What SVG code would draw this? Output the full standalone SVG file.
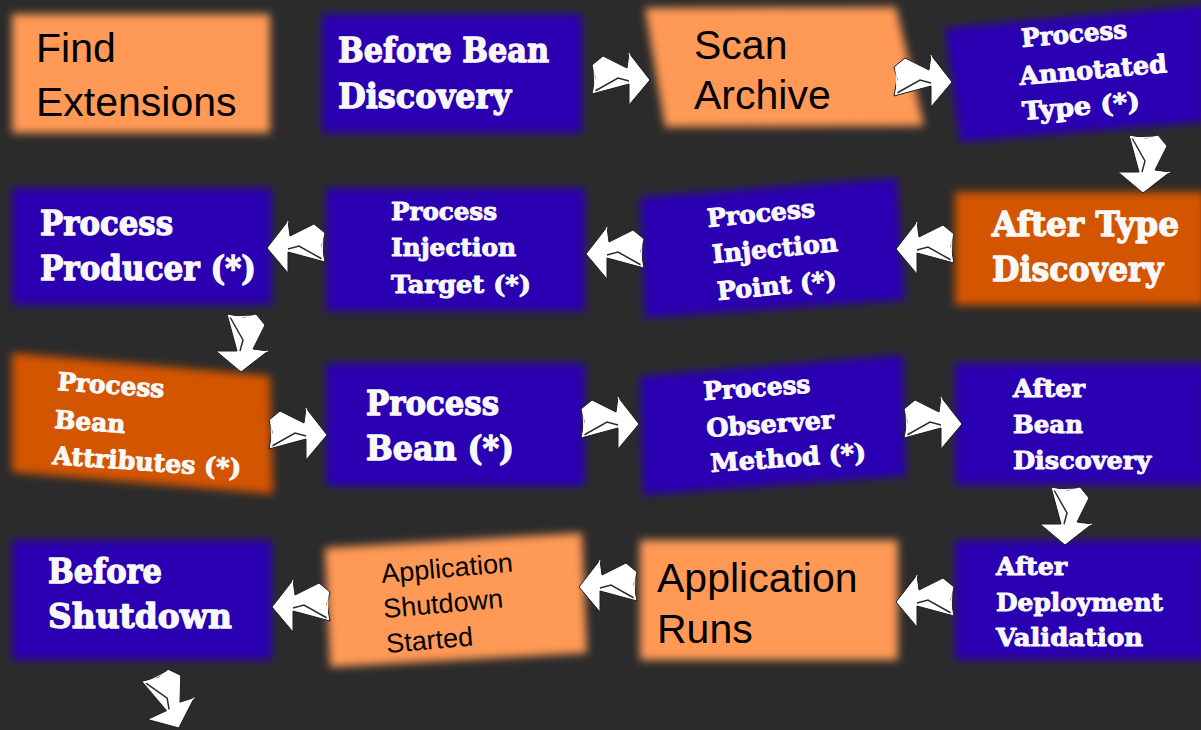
<svg xmlns="http://www.w3.org/2000/svg" xmlns:xlink="http://www.w3.org/1999/xlink" width="1201" height="730" viewBox="0 0 1201 730">
<defs>
<filter id="soft" x="-10%" y="-15%" width="120%" height="130%"><feGaussianBlur stdDeviation="4"/></filter>
<g id="arrowR">
<polygon points="-28,-13 -17,-22 7,-10 9,-25 30,2 9,27 9,6 -28,16 -25,-1" fill="#ffffff" stroke="#1e1e1e" stroke-width="1"/>
<polyline points="-25,13 -2,0 9,3" fill="none" stroke="#2b2b2b" stroke-width="1.5"/>
<line x1="-26" y1="-12" x2="-25" y2="14" stroke="#ffffff" stroke-width="1"/>
<line x1="9" y1="-25" x2="14" y2="-8" stroke="#ffffff" stroke-width="1"/>
</g>
</defs>
<style>
.blue{fill:#2a00b2}
.dark{fill:#d45500}
.light{fill:#ff9955}
.slab{font-family:"DejaVu Serif","Liberation Serif",serif;font-weight:bold;fill:#f8f8f8;stroke:#f8f8f8;stroke-linejoin:round}
.big{font-size:33px;stroke-width:1.3px}
.small{font-size:25px;stroke-width:1px}
.sans{font-family:"Liberation Sans",Arial,sans-serif;fill:#000000}
.sansbig{font-size:41px}
.sanssmall{font-size:27px}
</style>
<rect x="0" y="0" width="1201" height="730" fill="#2b2b2b"/>

<g id="find-extensions">
<rect class="light" x="12" y="14" width="258" height="119" filter="url(#soft)"/>
<text class="sans sansbig" x="36" y="62">Find</text>
<text class="sans sansbig" x="36" y="116">Extensions</text>
</g>

<g id="before-bean-discovery">
<rect class="blue" x="322" y="14" width="260" height="119" filter="url(#soft)"/>
<text class="slab big" x="338" y="62" textLength="211" lengthAdjust="spacingAndGlyphs">Before Bean</text>
<text class="slab big" x="338" y="108" textLength="173" lengthAdjust="spacingAndGlyphs">Discovery</text>
</g>

<g id="scan-archive">
<polygon class="light" points="645,8 896,7 924,126 665,127" filter="url(#soft)"/>
<text class="sans sansbig" x="694" y="59">Scan</text>
<text class="sans sansbig" x="694" y="109">Archive</text>
</g>

<g id="process-annotated-type">
<polygon class="blue" points="945,28 1205,5 1205,122 960,142" filter="url(#soft)"/>
<text class="slab small" x="1022" y="47" transform="rotate(-5 1022 47)" textLength="106" lengthAdjust="spacingAndGlyphs">Process</text>
<text class="slab small" x="1020" y="85" transform="rotate(-5 1020 85)" textLength="148" lengthAdjust="spacingAndGlyphs">Annotated</text>
<text class="slab small" x="1023" y="120" transform="rotate(-5 1023 120)" textLength="118" lengthAdjust="spacingAndGlyphs">Type (*)</text>
</g>

<g id="process-producer">
<rect class="blue" x="12" y="188" width="260" height="117" filter="url(#soft)"/>
<text class="slab big" x="40" y="235" textLength="133" lengthAdjust="spacingAndGlyphs">Process</text>
<text class="slab big" x="40" y="280" textLength="216" lengthAdjust="spacingAndGlyphs">Producer (*)</text>
</g>

<g id="process-injection-target">
<rect class="blue" x="326" y="188" width="259" height="123" filter="url(#soft)"/>
<text class="slab small" x="391" y="220" textLength="106" lengthAdjust="spacingAndGlyphs">Process</text>
<text class="slab small" x="391" y="256" textLength="125" lengthAdjust="spacingAndGlyphs">Injection</text>
<text class="slab small" x="391" y="293" textLength="140" lengthAdjust="spacingAndGlyphs">Target (*)</text>
</g>

<g id="process-injection-point">
<polygon class="blue" points="640,197 897,178 905,300 645,318" filter="url(#soft)"/>
<text class="slab small" x="708" y="227" transform="rotate(-5.5 708 227)" textLength="108" lengthAdjust="spacingAndGlyphs">Process</text>
<text class="slab small" x="713" y="263" transform="rotate(-5.5 713 263)" textLength="126" lengthAdjust="spacingAndGlyphs">Injection</text>
<text class="slab small" x="718" y="300" transform="rotate(-5.5 718 300)" textLength="120" lengthAdjust="spacingAndGlyphs">Point (*)</text>
</g>

<g id="after-type-discovery">
<rect class="dark" x="955" y="192" width="250" height="113" filter="url(#soft)"/>
<text class="slab big" x="992" y="236" textLength="187" lengthAdjust="spacingAndGlyphs">After Type</text>
<text class="slab big" x="992" y="281" textLength="171" lengthAdjust="spacingAndGlyphs">Discovery</text>
</g>

<g id="process-bean-attributes">
<polygon class="dark" points="12,353 270,376 273,494 12,472" filter="url(#soft)"/>
<text class="slab small" x="57" y="390" transform="rotate(4 57 390)" textLength="107" lengthAdjust="spacingAndGlyphs">Process</text>
<text class="slab small" x="54" y="428" transform="rotate(4 54 428)" textLength="71" lengthAdjust="spacingAndGlyphs">Bean</text>
<text class="slab small" x="52" y="464" transform="rotate(4 52 464)" textLength="189" lengthAdjust="spacingAndGlyphs">Attributes (*)</text>
</g>

<g id="process-bean">
<rect class="blue" x="326" y="363" width="259" height="123" filter="url(#soft)"/>
<text class="slab big" x="366" y="415" textLength="133" lengthAdjust="spacingAndGlyphs">Process</text>
<text class="slab big" x="366" y="460" textLength="148" lengthAdjust="spacingAndGlyphs">Bean (*)</text>
</g>

<g id="process-observer-method">
<polygon class="blue" points="640,376 903,355 906,476 643,495" filter="url(#soft)"/>
<text class="slab small" x="704" y="400" transform="rotate(-4 704 400)" textLength="107" lengthAdjust="spacingAndGlyphs">Process</text>
<text class="slab small" x="707" y="437" transform="rotate(-4 707 437)" textLength="128" lengthAdjust="spacingAndGlyphs">Observer</text>
<text class="slab small" x="711" y="472" transform="rotate(-4 711 472)" textLength="156" lengthAdjust="spacingAndGlyphs">Method (*)</text>
</g>

<g id="after-bean-discovery">
<rect class="blue" x="955" y="363" width="250" height="122" filter="url(#soft)"/>
<text class="slab small" x="1013" y="397" textLength="72" lengthAdjust="spacingAndGlyphs">After</text>
<text class="slab small" x="1013" y="433" textLength="70" lengthAdjust="spacingAndGlyphs">Bean</text>
<text class="slab small" x="1013" y="469" textLength="138" lengthAdjust="spacingAndGlyphs">Discovery</text>
</g>

<g id="before-shutdown">
<rect class="blue" x="12" y="540" width="260" height="120" filter="url(#soft)"/>
<text class="slab big" x="48" y="583" textLength="114" lengthAdjust="spacingAndGlyphs">Before</text>
<text class="slab big" x="48" y="628" textLength="184" lengthAdjust="spacingAndGlyphs">Shutdown</text>
</g>

<g id="application-shutdown-started">
<polygon class="light" points="325,548 582,533 587,653 330,667" filter="url(#soft)"/>
<text class="sans sanssmall" x="382" y="583" transform="rotate(-5 382 583)">Application</text>
<text class="sans sanssmall" x="384" y="618" transform="rotate(-5 384 618)">Shutdown</text>
<text class="sans sanssmall" x="387" y="653" transform="rotate(-5 387 653)">Started</text>
</g>

<g id="application-runs">
<rect class="light" x="640" y="540" width="258" height="120" filter="url(#soft)"/>
<text class="sans sansbig" x="657" y="592">Application</text>
<text class="sans sansbig" x="657" y="643">Runs</text>
</g>

<g id="after-deployment-validation">
<rect class="blue" x="955" y="540" width="250" height="120" filter="url(#soft)"/>
<text class="slab small" x="996" y="575" textLength="71" lengthAdjust="spacingAndGlyphs">After</text>
<text class="slab small" x="996" y="611" textLength="167" lengthAdjust="spacingAndGlyphs">Deployment</text>
<text class="slab small" x="996" y="646" textLength="147" lengthAdjust="spacingAndGlyphs">Validation</text>
</g>

<g id="connectors">
<use xlink:href="#arrowR" transform="translate(620,78)"/>
<use xlink:href="#arrowR" transform="translate(922,80)"/>
<use xlink:href="#arrowR" transform="translate(1145,163) rotate(90)"/>
<use xlink:href="#arrowR" transform="translate(926,247) scale(-1,1)"/>
<use xlink:href="#arrowR" transform="translate(616,252) scale(-1,1)"/>
<use xlink:href="#arrowR" transform="translate(297,246) scale(-1,1)"/>
<use xlink:href="#arrowR" transform="translate(243,342) rotate(90)"/>
<use xlink:href="#arrowR" transform="translate(297,433)"/>
<use xlink:href="#arrowR" transform="translate(609,422)"/>
<use xlink:href="#arrowR" transform="translate(932,422)"/>
<use xlink:href="#arrowR" transform="translate(1067,515) rotate(90)"/>
<use xlink:href="#arrowR" transform="translate(926,600) scale(-1,1)"/>
<use xlink:href="#arrowR" transform="translate(609,585) scale(-1,1)"/>
<use xlink:href="#arrowR" transform="translate(302,605) scale(-1,1)"/>
<use xlink:href="#arrowR" transform="translate(168,700) rotate(65)"/>
</g>
</svg>
